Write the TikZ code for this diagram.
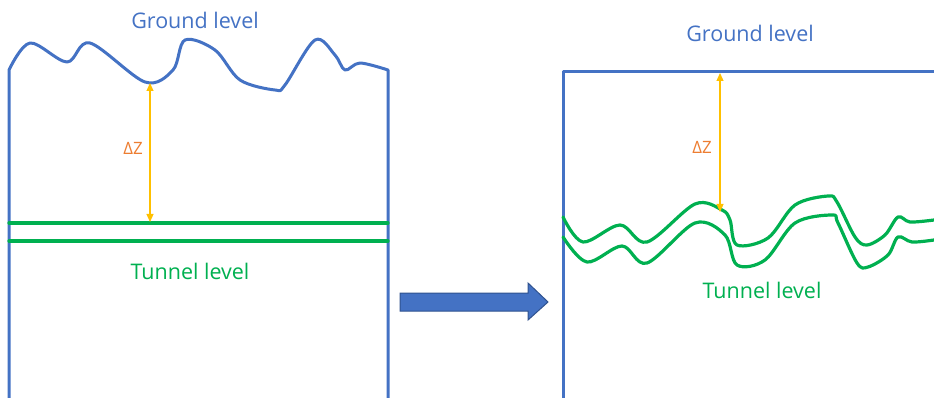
\documentclass[tikz,border=0pt]{standalone}
\usepackage{fontspec}
\setmainfont{Open Sans}
\usetikzlibrary{arrows.meta}
\definecolor{gblue}{HTML}{4472C4}
\definecolor{ggreen}{HTML}{00B050}
\definecolor{gyellow}{HTML}{FFC000}
\definecolor{gorange}{HTML}{ED7D31}
\definecolor{gborder}{HTML}{2F528F}
\tikzset{
  bluel/.style={draw=gblue, line width=3pt, line cap=round, line join=round},
  greenl/.style={draw=ggreen, line width=3.2pt, line cap=round, line join=round},
  dz/.style={draw=gyellow, line width=1.2pt, {Triangle[length=8pt,width=7pt]}-{Triangle[length=8pt,width=7pt]}},
  dztext/.style={text=gorange, font=\fontsize{17}{20}\selectfont},
  bluetext/.style={text=gblue, font=\fontsize{21.5}{26}\selectfont},
  greentext/.style={text=ggreen, font=\fontsize{21.5}{26}\selectfont},
}
\begin{document}
\begin{tikzpicture}[x=1pt,y=-1pt]
\useasboundingbox (0,0) rectangle (934,398);
% ---------- left panel ----------
\draw[bluel] (9,398) -- (9,70)
  plot[smooth, tension=0.55] coordinates {(9,70) (30,43) (67,62) (90,43) (145,82) (173,70) (185,40) (215,50) (240,80) (275,90) (285,85) (315,40) (335,55) (345,70) (360,63) (388,70)}
  -- (388,398);
\draw[greenl] (9,223) -- (388,223);
\draw[greenl] (9,241) -- (388,241);
\coordinate (lt) at (150,83);
\coordinate (lb) at (150,222);
\draw[dz] (lt) -- (lb);
\node[dztext] (ldz) at (133,148) {ΔZ};
\node[bluetext] (lground) at (195,20) {Ground level};
\node[greentext] (ltunnel) at (190,271) {Tunnel level};
% ---------- block arrow ----------
\draw[fill=gblue, draw=gborder, line width=1pt, line join=miter]
  (400,293) -- (528,293) -- (528,283) -- (548,302) -- (528,320) -- (528,311) -- (400,311) -- cycle;
% ---------- right panel ----------
\draw[bluel, line cap=butt] (563,398) -- (563,72) -- (934,72);
\draw[greenl] plot[smooth, tension=0.55] coordinates {(563,217) (583,242) (620,225) (647,242) (695,204) (722,210) (730,220) (737,245) (768,238) (795,205) (828,196) (837,202) (855,237) (867,245) (885,235) (898,217) (910,222) (934,220)};
\draw[greenl] plot[smooth, tension=0.55] coordinates {(563,237) (587,262) (622,246) (647,263) (695,223) (725,235) (737,265) (765,260) (795,223) (832,215) (838,223) (857,263) (868,267) (888,255) (898,237) (912,242) (934,240)};
\coordinate (rt) at (720,73);
\coordinate (rb) at (720,212);
\draw[dz] (rt) -- (rb);
\node[dztext] (rdz) at (702,147) {ΔZ};
\node[bluetext] (rground) at (750,33) {Ground level};
\node[greentext] (rtunnel) at (762,290) {Tunnel level};
\end{tikzpicture}
\end{document}
